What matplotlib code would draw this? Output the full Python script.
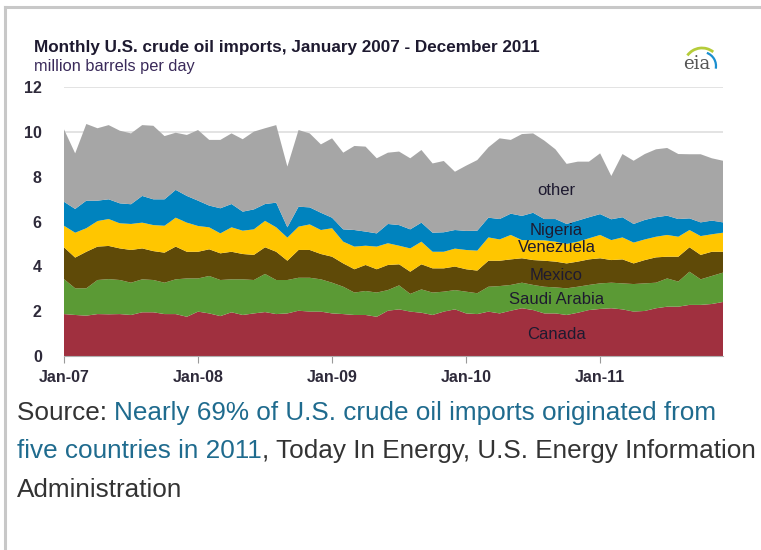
import numpy as np
import matplotlib
matplotlib.use("Agg")
import matplotlib.pyplot as plt
from matplotlib.patches import Arc

plt.rcParams['font.family'] = ['Liberation Sans', 'DejaVu Sans']

# monthly imports, million barrels per day, Jan 2007 - Dec 2011
canada = [1.87, 1.83, 1.80, 1.87, 1.86, 1.87, 1.83, 1.95, 1.95, 1.87, 1.87, 1.75,
          1.98, 1.90, 1.78, 1.95, 1.83, 1.90, 1.96, 1.87, 1.90, 2.02, 1.98, 1.98,
          1.90, 1.87, 1.83, 1.83, 1.75, 2.02, 2.08, 1.98, 1.93, 1.83, 1.98, 2.08,
          1.90, 1.87, 1.98, 1.90, 2.02, 2.13, 2.05, 1.90, 1.90, 1.83, 1.93, 2.05,
          2.10, 2.13, 2.08, 1.98, 2.01, 2.13, 2.20, 2.20, 2.28, 2.28, 2.32, 2.41]
saudi = [1.56, 1.19, 1.22, 1.52, 1.57, 1.52, 1.44, 1.47, 1.44, 1.40, 1.55, 1.71,
         1.48, 1.67, 1.61, 1.47, 1.59, 1.49, 1.70, 1.52, 1.49, 1.47, 1.51, 1.44,
         1.37, 1.22, 1.00, 1.07, 1.08, 0.92, 1.07, 0.79, 1.04, 1.00, 0.89, 0.86,
         0.97, 0.93, 1.11, 1.22, 1.15, 1.14, 1.12, 1.19, 1.16, 1.19, 1.16, 1.12,
         1.14, 1.14, 1.16, 1.23, 1.23, 1.14, 1.26, 1.12, 1.48, 1.14, 1.25, 1.31]
mexico = [1.42, 1.37, 1.63, 1.49, 1.48, 1.41, 1.46, 1.38, 1.29, 1.34, 1.46, 1.19,
          1.19, 1.19, 1.19, 1.23, 1.13, 1.12, 1.19, 1.26, 0.86, 1.24, 1.24, 1.13,
          1.16, 1.04, 1.04, 1.16, 1.04, 1.12, 0.94, 0.99, 1.12, 1.08, 1.04, 1.05,
          1.00, 1.01, 1.16, 1.13, 1.14, 1.09, 1.11, 1.16, 1.15, 1.11, 1.12, 1.14,
          1.12, 1.01, 1.07, 0.92, 1.04, 1.13, 0.97, 1.11, 1.09, 1.09, 1.08, 0.93]
venezuela = [0.96, 1.11, 1.05, 1.14, 1.20, 1.12, 1.16, 1.15, 1.16, 1.20, 1.29, 1.30,
             1.15, 0.98, 0.89, 1.09, 1.04, 1.14, 1.18, 1.09, 1.03, 1.04, 1.14, 1.07,
             1.27, 0.97, 1.01, 0.86, 1.01, 0.97, 0.83, 1.04, 1.01, 0.74, 0.74, 0.80,
             0.86, 0.89, 1.04, 0.95, 1.09, 0.81, 0.89, 0.91, 0.89, 0.87, 0.89, 0.94,
             1.04, 0.89, 0.98, 0.93, 0.92, 0.92, 0.97, 0.89, 0.77, 0.84, 0.78, 0.85]
nigeria = [1.07, 1.06, 1.23, 0.91, 0.88, 0.89, 0.88, 1.19, 1.15, 1.18, 1.24, 1.19,
           1.13, 0.97, 1.12, 1.04, 0.85, 0.89, 0.75, 1.10, 0.46, 0.89, 0.76, 0.77,
           0.47, 0.55, 0.74, 0.63, 0.59, 0.86, 0.92, 0.85, 0.85, 0.85, 0.87, 0.83,
           0.85, 0.89, 0.88, 0.91, 0.95, 1.08, 1.22, 0.95, 1.01, 0.89, 0.94, 0.94,
           0.93, 0.93, 0.90, 0.83, 0.87, 0.87, 0.86, 0.79, 0.52, 0.61, 0.61, 0.46]
other = [3.23, 2.48, 3.42, 3.23, 3.31, 3.24, 3.16, 3.16, 3.28, 2.82, 2.55, 2.72,
         3.15, 2.93, 3.05, 3.15, 3.23, 3.47, 3.38, 3.46, 2.71, 3.42, 3.30, 3.05,
         3.54, 3.42, 3.75, 3.79, 3.35, 3.18, 3.28, 3.17, 3.24, 3.09, 3.18, 2.60,
         2.91, 3.15, 3.14, 3.60, 3.29, 3.65, 3.54, 3.50, 3.11, 2.68, 2.63, 2.48,
         2.71, 1.93, 2.82, 2.82, 2.94, 3.03, 3.02, 2.90, 2.86, 3.04, 2.78, 2.75]

series_names = ['Canada', 'Saudi Arabia', 'Mexico', 'Venezuela', 'Nigeria', 'other']
colors = ['#a0303f', '#5b9a35', '#5f4a08', '#ffc600', '#0083be', '#a6a6a6']
tick_labels = ['Jan-07', 'Jan-08', 'Jan-09', 'Jan-10', 'Jan-11']

W, H = 761, 550
fig = plt.figure(figsize=(W / 100, H / 100), dpi=100)

# outer frame (left + top)
fig.add_artist(plt.Line2D([5 / W, 5 / W], [0, 1 - 7 / H], color='#c8c8c8', lw=2.2))
fig.add_artist(plt.Line2D([5 / W, 1], [1 - 7 / H, 1 - 7 / H], color='#c8c8c8', lw=2.2))

ax = fig.add_axes([64 / W, (H - 356) / H, (723 - 64) / W, (356 - 87) / H])
months = np.arange(len(canada))
ax.stackplot(months, canada, saudi, mexico, venezuela, nigeria, other,
             colors=colors, linewidth=0, zorder=2)

ax.set_xlim(0, len(canada) - 1)
ax.set_ylim(0, 12)
ax.set_yticks(range(0, 13, 2))
ax.set_xticks(range(0, len(canada), 12))
ax.set_xticklabels(tick_labels)
ax.yaxis.grid(True, color='#dedede', lw=1.2, zorder=0)
ax.set_axisbelow(True)
for s in ['top', 'right', 'left']:
    ax.spines[s].set_visible(False)
ax.spines['bottom'].set_color('#b0b0b0')
ax.tick_params(axis='y', length=0, pad=16, labelsize=11.5, labelcolor='#2e2a3a')
ax.tick_params(axis='x', length=5, color='#999999', pad=5, labelsize=11.5,
               labelcolor='#2e2a3a')
for lab in ax.get_xticklabels() + ax.get_yticklabels():
    lab.set_fontweight('bold')

# in-chart labels
lab_x = 44.1
label_y = [0.94, 2.54, 3.57, 4.82, 5.58, 7.4]
for name, ly in zip(series_names, label_y):
    ax.text(lab_x, ly, name, ha='center', va='center', fontsize=12, color='#1e1a30')

# titles
fig.text(34 / W, 1 - 52 / H, 'Monthly U.S. crude oil imports, January 2007 - December 2011',
         fontsize=12.3, fontweight='bold', color='#1e1a30', va='baseline')
fig.text(34 / W, 1 - 71 / H, 'million barrels per day', fontsize=11.8,
         color='#3a2a5a', va='baseline')

# eia logo
fig.text(697 / W, 1 - 69 / H, 'eia', fontsize=13, family='DejaVu Serif',
         color='#555555', ha='center', va='baseline')
fig.add_artist(Arc((702 / W, 1 - 66 / H), 36 / W, 36 / H, theta1=60, theta2=135,
                   color='#b5cc3a', lw=2, transform=fig.transFigure))
fig.add_artist(Arc((702 / W, 1 - 66 / H), 28 / W, 28 / H, theta1=-15, theta2=75,
                   color='#1b8fd0', lw=1.6, transform=fig.transFigure))

# source text with link colour
dark, link = '#333333', '#1f6b8e'
lines = [[('Source: ', dark), ('Nearly 69% of U.S. crude oil imports originated from', link)],
         [('five countries in 2011', link), (', Today In Energy, U.S. Energy Information', dark)],
         [('Administration', dark)]]
base_y = [420, 458, 497]
renderer = fig.canvas.get_renderer()
for parts, by in zip(lines, base_y):
    x = 17
    for txt, col in parts:
        t = fig.text(x / W, 1 - by / H, txt, fontsize=18.8, color=col, va='baseline')
        x += t.get_window_extent(renderer).width

fig.savefig('out.png', dpi=100)
